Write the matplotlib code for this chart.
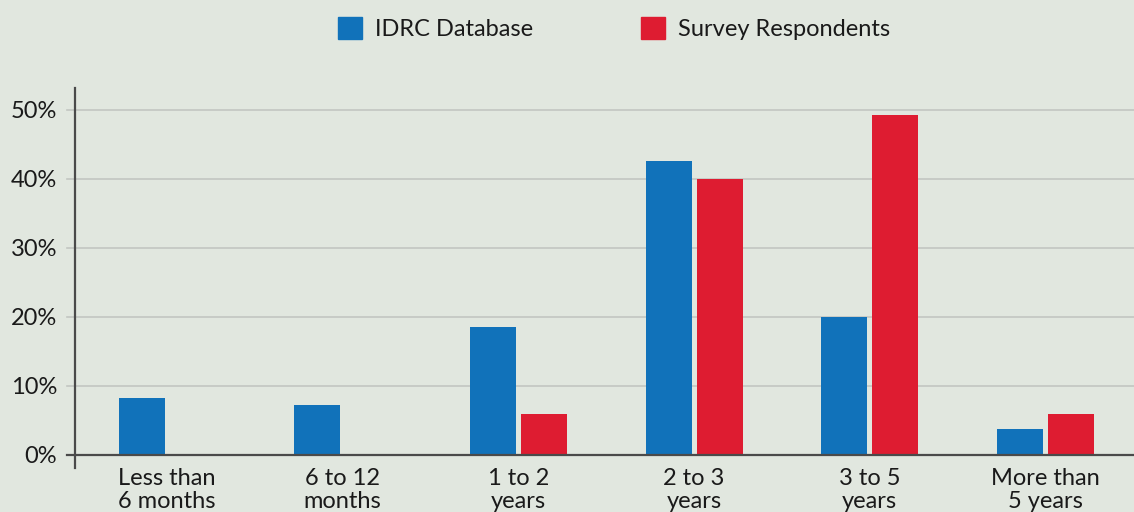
import numpy as np
import matplotlib
matplotlib.use('Agg')
import matplotlib.pyplot as plt
from matplotlib.patches import Patch

# Data
categories = ['Less than\n6 months', '6 to 12\nmonths', '1 to 2\nyears',
              '2 to 3\nyears', '3 to 5\nyears', 'More than\n5 years']
idrc = [8.2, 7.2, 18.6, 42.6, 20.0, 3.8]
survey = [0, 0, 6.0, 40.0, 49.2, 6.0]
yticks = [0, 10, 20, 30, 40, 50]

bg = '#e1e7df'
blue = '#1172ba'
red = '#de1c31'
grid_col = '#c2c6c1'
txt = '#1a1a1a'

plt.rcParams['font.family'] = ['Lato', 'DejaVu Sans']

fig = plt.figure(figsize=(11.34, 5.12), dpi=100, facecolor=bg)
ax = fig.add_axes([75 / 1134, 1 - 467.7 / 512, 1 - 75 / 1134, 379.4 / 512])
ax.set_facecolor(bg)

x = np.arange(len(categories))
w = 0.262
off = 0.145
ax.bar(x - off, idrc, w, color=blue, zorder=3)
ax.bar(x + off, survey, w, color=red, zorder=3)

ax.set_xlim(-0.524, 5.504)
ax.set_ylim(-1.84, 53.1)

# gridlines and tick marks
for v in yticks[1:]:
    ax.axhline(v, xmin=-0.008, xmax=1, color=grid_col, lw=1.2, zorder=1, clip_on=False)
ax.axhline(0, xmin=-0.008, xmax=1, color='#4a4a4a', lw=1.6, zorder=4, clip_on=False)

ax.set_yticks(yticks)
ax.set_yticklabels([f'{v}%' for v in yticks])
ax.tick_params(axis='y', length=0, pad=13, labelsize=17, labelcolor=txt)
ax.set_xticks(x)
ax.set_xticklabels(categories, linespacing=1.12)
ax.tick_params(axis='x', length=0, pad=0, labelsize=17, labelcolor=txt)

for s in ['top', 'right', 'bottom']:
    ax.spines[s].set_visible(False)
ax.spines['left'].set_color('#4a4a4a')
ax.spines['left'].set_linewidth(1.6)

handles = [Patch(color=blue, label='IDRC Database'),
           Patch(color=red, label='Survey Respondents')]
fig.legend(handles=handles, ncol=2, loc='center', bbox_to_anchor=(0.5414, 0.945),
           frameon=False, fontsize=17, handlelength=1.0, handleheight=1.05,
           handletextpad=0.55, columnspacing=4.6, labelcolor=txt)

fig.savefig('out.png', dpi=100, facecolor=bg)
